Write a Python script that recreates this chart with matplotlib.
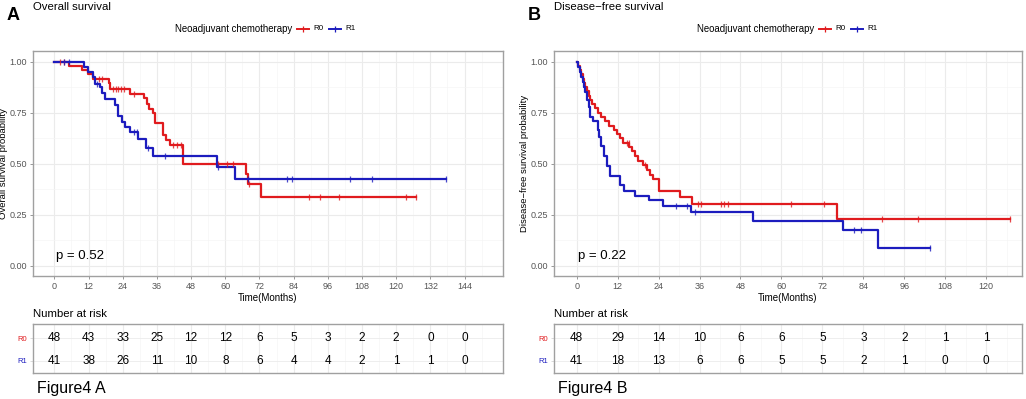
import matplotlib
matplotlib.use("Agg")
import matplotlib.pyplot as plt
from matplotlib.lines import Line2D

plt.rcParams['font.family'] = ['Liberation Sans', 'DejaVu Sans']

RED = "#E01B1E"
BLUE = "#1C1CBE"

# ---- Panel A: overall survival (step times in months, survival after step)
os_r0_t = [5.1, 9.8, 11.8, 13.6, 19.1, 19.7, 26.7, 31.6, 32.5, 33.3, 34.6, 35.4,
           38.3, 39.2, 40.7, 45.3, 67.2, 68.1, 72.4]
os_r0_s = [0.979, 0.958, 0.938, 0.917, 0.896, 0.865, 0.840, 0.820, 0.795, 0.770,
           0.747, 0.700, 0.640, 0.617, 0.590, 0.498, 0.450, 0.400, 0.335]
os_r0_cens = [2.0, 3.5, 15.6, 16.8, 20.5, 21.5, 22.5, 23.5, 24.5, 27.9, 41.8, 43.0,
              44.5, 57.6, 60.5, 62.8, 68.4, 89.5, 93.4, 99.9, 123.4, 126.8]

os_r1_t = [10.4, 11.9, 13.6, 14.2, 15.9, 16.8, 17.9, 21.4, 22.3, 23.8, 24.9, 26.7,
           29.3, 32.2, 34.8, 57.0, 63.4]
os_r1_s = [0.976, 0.951, 0.927, 0.890, 0.878, 0.845, 0.815, 0.790, 0.735, 0.705,
           0.680, 0.655, 0.620, 0.576, 0.540, 0.483, 0.424]
os_r1_cens = [3.4, 5.1, 15.0, 27.9, 29.0, 33.0, 38.9, 57.6, 68.0, 81.5, 83.3,
              103.7, 111.5, 137.4]

os_risk_r0 = [48, 43, 33, 25, 12, 12, 6, 5, 3, 2, 2, 0, 0]
os_risk_r1 = [41, 38, 26, 11, 10, 8, 6, 4, 4, 2, 1, 1, 0]
os_ticks = list(range(0, 145, 12))

# ---- Panel B: disease-free survival
dfs_r0_t = [0.5, 1.0, 1.3, 1.8, 2.2, 2.5, 2.9, 3.5, 3.9, 4.4, 5.4, 6.1, 7.0, 8.3,
            9.6, 10.8, 11.7, 12.6, 13.7, 15.4, 16.1, 17.1, 18.1, 19.3, 20.5,
            21.5, 22.5, 24.0, 30.3, 33.7, 76.4]
dfs_r0_s = [0.979, 0.958, 0.938, 0.917, 0.896, 0.875, 0.854, 0.833, 0.812, 0.792,
            0.771, 0.750, 0.729, 0.708, 0.687, 0.667, 0.646, 0.625, 0.604, 0.582,
            0.560, 0.538, 0.515, 0.492, 0.469, 0.446, 0.423, 0.364, 0.335, 0.305,
            0.230]
dfs_r0_cens = [14.7, 15.3, 20.0, 35.5, 36.4, 42.2, 43.2, 44.2, 62.8, 72.5, 89.6,
               99.9, 127.0]

dfs_r1_t = [0.5, 1.0, 1.3, 1.8, 2.2, 2.5, 2.9, 3.5, 3.9, 4.7, 6.1, 6.6, 7.0, 8.0,
            8.8, 9.8, 12.7, 14.0, 17.1, 21.3, 25.4, 33.5, 51.6, 77.9, 88.2]
dfs_r1_s = [0.976, 0.951, 0.927, 0.900, 0.875, 0.850, 0.810, 0.780, 0.730, 0.707,
            0.667, 0.630, 0.585, 0.537, 0.490, 0.440, 0.397, 0.366, 0.342, 0.320,
            0.294, 0.263, 0.217, 0.173, 0.087]
dfs_r1_cens = [29.1, 32.3, 34.7, 81.4, 83.3, 103.6]

dfs_risk_r0 = [48, 29, 14, 10, 6, 6, 5, 3, 2, 1, 1]
dfs_risk_r1 = [41, 18, 13, 6, 6, 5, 5, 2, 1, 0, 0]
dfs_ticks = list(range(0, 121, 12))

groups = ["R0", "R1"]


def surv_at(times, surv, x):
    s = 1.0
    for t, v in zip(times, surv):
        if t <= x:
            s = v
    return s


def km_line(ax, times, surv, cens, color):
    end = max(cens + times)
    xs = [0] + list(times) + [end]
    ys = [1.0] + list(surv) + [surv[-1]]
    ax.step(xs, ys, where="post", color=color, lw=1.6, zorder=3)
    cy = [surv_at(times, surv, c) for c in cens]
    ax.plot(cens, cy, ls="none", marker="|", ms=5, mew=0.9, color=color,
            alpha=0.8, zorder=4)


def style_box(ax, ticks, xlim, ylim):
    ax.set_xlim(*xlim)
    ax.set_ylim(*ylim)
    for sp in ax.spines.values():
        sp.set_color("#A0A0A0")
        sp.set_linewidth(1.0)
    ax.set_xticks(ticks)
    ax.set_xticks([t + 6 for t in ticks], minor=True)
    ax.grid(which="major", color="#EBEBEB", lw=0.8, zorder=0)
    ax.grid(which="minor", color="#F5F5F5", lw=0.5, zorder=0)
    ax.set_axisbelow(True)


def panel(left, width, letter, title, ylabel, xlim, ticks, curves, pval,
          risk0, risk1, fig_label, legend_x):
    ax = fig.add_axes([left, 0.3083, width, 0.5627])
    style_box(ax, ticks, xlim, (-0.05, 1.05))
    ax.set_yticks([0, 0.25, 0.5, 0.75, 1.0])
    ax.set_yticks([0.125, 0.375, 0.625, 0.875], minor=True)
    ax.set_yticklabels(["0.00", "0.25", "0.50", "0.75", "1.00"])
    ax.tick_params(which="major", length=2.5, width=0.6, color="#888888",
                   labelsize=6.5, labelcolor="#555555", pad=2)
    ax.tick_params(which="minor", length=0)
    for (t, s, c), col in zip(curves, [RED, BLUE]):
        km_line(ax, t, s, c, col)
    ax.text(0.5, 0.05, pval, fontsize=9.5, ha="left", va="center")
    ax.set_xlabel("Time(Months)", fontsize=7, labelpad=1)
    ax.set_ylabel(ylabel, fontsize=6.8, labelpad=1)

    # risk table
    rt = fig.add_axes([left, 0.0652, width, 0.1228])
    style_box(rt, ticks, xlim, (0, 1))
    rt.set_xticklabels([])
    rt.tick_params(axis="x", which="both", length=0)
    rt.set_yticks([0.714, 0.245])
    rt.set_yticks([], minor=True)
    rt.set_yticklabels(groups, fontsize=5.5)
    rt.get_yticklabels()[0].set_color(RED)
    rt.get_yticklabels()[1].set_color(BLUE)
    rt.tick_params(axis="y", length=2, width=0.5, color="#CCCCCC", pad=2)
    rt.grid(axis="y", color="#EBEBEB", lw=0.6)
    for x, n0, n1 in zip(ticks, risk0, risk1):
        rt.text(x, 0.714, str(n0), ha="center", va="center", fontsize=8.5)
        rt.text(x, 0.245, str(n1), ha="center", va="center", fontsize=8.5)
    fig.text(left, 1 - 314 / 399, "Number at risk", fontsize=8.2,
             ha="left", va="center")
    fig.text(left + 0.004, 1 - 388 / 399, fig_label, fontsize=11.5,
             ha="left", va="center")

    # headers
    fig.text(left - 0.026, 1 - 16 / 399, letter, fontsize=13,
             fontweight="bold", ha="left", va="center")
    fig.text(left, 1 - 7 / 399, title, fontsize=8.2, ha="left", va="center")
    yl = 1 - 29 / 399
    fig.text(legend_x, yl, "Neoadjuvant chemotherapy", fontsize=6.9,
             ha="left", va="center")
    x0 = legend_x + 122 / 1026
    for i, (g, col) in enumerate(zip(groups, [RED, BLUE])):
        xa = x0 + i * 32 / 1026
        fig.add_artist(Line2D([xa, xa + 12 / 1026], [yl, yl], color=col,
                              lw=1.4, transform=fig.transFigure))
        fig.add_artist(Line2D([xa + 6 / 1026], [yl], color=col, marker="|",
                              ms=5, mew=0.9, transform=fig.transFigure))
        fig.text(xa + 16 / 1026, yl, g, fontsize=5.8, ha="left", va="center")
    return ax


fig = plt.figure(figsize=(10.26, 3.99), dpi=100)

panel(33 / 1026, 470 / 1026, "A", "Overall survival",
      "Overall survival probability", (-7.5, 157.5), os_ticks,
      [(os_r0_t, os_r0_s, os_r0_cens), (os_r1_t, os_r1_s, os_r1_cens)],
      "p = 0.52", os_risk_r0, os_risk_r1, "Figure4 A", 175 / 1026)

panel(554 / 1026, 468 / 1026, "B", "Disease\u2212free survival",
      "Disease\u2212free survival probability", (-6.65, 130.5), dfs_ticks,
      [(dfs_r0_t, dfs_r0_s, dfs_r0_cens), (dfs_r1_t, dfs_r1_s, dfs_r1_cens)],
      "p = 0.22", dfs_risk_r0, dfs_risk_r1, "Figure4 B", 697 / 1026)

fig.savefig("out.png", dpi=100)
